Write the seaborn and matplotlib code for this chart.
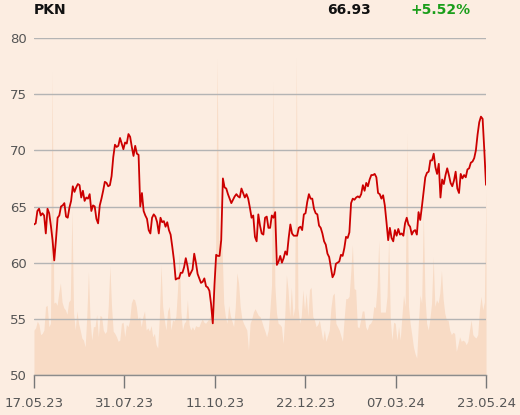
import numpy as np
import matplotlib
matplotlib.use("Agg")
import matplotlib.pyplot as plt
import seaborn as sns

# ---------------- data ----------------
ticker = "PKN"
last_price = "66.93"
change_pct = "+5.52%"
date_labels = ["17.05.23", "31.07.23", "11.10.23", "22.12.23", "07.03.24", "23.05.24"]
y_ticks = [50, 55, 60, 65, 70, 75, 80]

price_a = [63.4, 63.5, 64.6, 64.8, 64.2, 64.4, 64.2, 62.6, 64.8, 64.4, 63.3, 62.0, 60.2, 62.0,
           64.0, 64.2, 65.0, 65.1, 65.3, 64.1, 64.0, 64.9, 65.5, 66.8, 66.3, 66.7, 67.0, 66.9,
           65.8, 66.4, 65.5, 65.8, 65.7, 66.1, 64.6, 65.1, 65.0, 63.9, 63.5, 65.1, 65.7, 66.4,
           67.2, 67.1, 66.8, 66.9, 67.7, 69.4, 70.5, 70.3, 70.4, 71.1, 70.6, 70.1, 70.7, 70.6,
           71.45, 71.2, 70.3, 69.5, 70.4, 69.7, 69.6, 65.0, 66.2, 64.6, 64.2, 63.9]
price_b = [62.9, 62.6, 64.0, 64.3, 64.1, 63.6, 62.6, 64.0, 63.6, 63.7, 63.2, 63.6, 62.9, 62.5,
           61.4, 60.2, 58.5, 58.6, 58.6, 59.1, 59.1, 59.6, 60.4, 59.7, 58.8, 59.1, 59.4, 60.8,
           60.0, 59.0, 58.6, 58.2, 58.3, 58.6, 57.9, 57.8, 57.5, 56.3, 54.6, 58.0, 60.7, 60.6,
           60.6, 62.0, 67.5, 66.7, 66.6, 66.1, 65.7, 65.3, 65.6, 65.9, 66.1, 65.9, 65.8, 66.6,
           66.2, 65.8, 66.1, 65.7, 64.9, 64.0, 64.2, 62.3, 61.9]
price_c = [64.3, 63.3, 62.6, 62.5, 64.0, 64.1, 63.1, 63.1, 64.2, 64.0, 64.5, 59.8, 60.1, 60.6,
           60.0, 60.4, 61.0, 60.7, 62.2, 63.4, 62.6, 62.4, 62.4, 62.4, 63.1, 63.2, 62.9, 64.3,
           64.4, 65.4, 66.1, 65.7, 65.7, 64.8, 64.4, 64.3, 63.3, 63.1, 62.6, 61.9, 61.6, 60.8,
           60.5, 59.6, 58.7, 59.0, 59.9, 60.0, 60.1, 60.7, 60.6, 61.3, 62.3, 62.2, 62.7, 65.3,
           65.7, 65.6, 65.8, 65.9, 65.8, 66.1, 66.9, 66.4, 67.1, 66.8, 67.4]
price_d = [67.8, 67.8, 67.9, 67.6, 66.2, 66.1, 65.7, 66.0, 65.1, 63.6, 62.0, 63.1, 62.2, 61.9,
           62.9, 62.4, 63.0, 62.5, 62.6, 62.4, 63.5, 64.0, 63.4, 63.2, 62.5, 62.8, 62.9, 62.5,
           64.5, 63.8, 65.0, 66.3, 67.6, 68.0, 68.1, 69.1, 69.1, 69.7, 68.5, 67.9, 68.8, 65.8,
           67.4, 67.0, 67.8, 68.4, 67.8, 67.1, 66.8, 67.3, 68.1, 66.6, 66.2, 67.9, 67.5, 67.8,
           67.6, 68.3, 68.4, 68.9, 69.0, 69.3, 70.0, 71.4, 72.5, 73.0, 72.8, 70.0, 66.93]

vol_a = [4.0, 4.2, 4.8, 4.5, 3.6, 3.7, 4.0, 6.1, 6.2, 4.3, 4.6, 27.0, 6.4, 6.5, 6.2, 7.3, 8.2,
         6.5, 6.0, 5.8, 5.4, 6.5, 6.7, 14.7, 5.5, 4.0, 5.7, 4.6, 4.0, 3.3, 3.1, 2.5, 5.2, 9.2,
         4.9, 3.1, 4.3, 4.3, 5.4, 3.4, 5.3, 5.2, 4.0, 3.7, 3.9, 6.1, 9.7, 6.1, 3.9, 3.7, 3.4,
         3.0, 3.1, 4.6, 4.7, 3.4, 4.5, 4.3, 4.9, 6.4, 6.8, 6.7, 6.1, 4.9, 5.2]
vol_b = [4.3, 5.2, 5.7, 4.0, 4.2, 3.9, 4.4, 3.4, 3.7, 2.7, 2.4, 5.2, 9.8, 6.1, 4.9, 4.0, 5.7,
         6.1, 4.0, 4.9, 4.8, 5.2, 7.6, 11.0, 5.7, 4.0, 4.6, 4.8, 6.7, 4.5, 4.0, 4.3, 4.0]
vol_c = [4.4, 4.3, 4.3, 4.7, 5.0, 4.7, 4.6, 4.8, 5.0, 5.3, 5.8, 7.0, 9.0, 28.2, 12.0, 12.0,
         11.4, 6.4, 5.2, 4.6, 6.2, 5.3, 4.8, 4.3, 6.0, 9.1, 8.2, 6.1, 5.0, 4.6, 4.3, 4.0, 2.2,
         4.6, 5.0, 5.6, 5.9, 5.6, 5.3, 5.2, 4.8, 4.3, 3.9, 3.4, 4.0, 5.8, 8.0, 26.1, 8.0, 5.5,
         4.6, 4.5, 4.3, 2.8, 5.2, 8.9, 7.6, 5.2, 7.8, 5.2, 6.0, 28.3, 6.0, 4.6, 5.2, 7.6, 5.8,
         7.3, 5.2, 7.6, 7.8, 5.2, 4.9, 4.3, 4.5, 4.9, 4.0, 3.1, 4.0, 3.0, 3.5, 4.0, 6.0, 7.1,
         7.3, 4.6, 4.3, 4.0, 3.5, 3.0, 5.0, 6.8, 6.8, 7.0]
vol_d = [9.1, 11.6, 7.7, 7.6, 4.3, 4.2, 4.9, 5.7, 5.7, 4.3, 4.0, 4.5]
vol_e = [4.6, 4.9, 6.1, 6.0, 7.9, 12.0, 5.6, 5.6, 5.6, 5.6, 7.0, 12.2, 4.9, 3.1, 4.7, 4.6,
         3.1, 4.3, 3.1, 5.2, 7.1, 6.1, 21.5, 6.1, 4.6, 3.6, 2.5, 1.9, 1.5, 4.6, 7.1, 6.4, 14.4,
         7.0, 4.6, 4.0, 5.0, 6.4, 10.5, 6.1, 6.7, 6.4, 7.3, 9.3, 6.8, 5.5, 4.9, 4.9, 4.0, 3.6,
         3.8, 3.7, 2.1, 2.7, 3.4, 3.0, 3.1, 3.0, 2.7, 3.0, 4.0, 4.9, 3.6, 3.4, 3.3, 3.6, 5.8,
         7.0, 5.8, 6.5, 16.5]

price = price_a + price_b + price_c + price_d
volume = vol_a + vol_b + vol_c + vol_d + vol_e

# ---------------- style ----------------
BG = "#fcede1"
VOLC = "#f8dbc5"
LINEC = "#cc0000"
GRIDC = "#b4b4b4"
TXTC = "#555555"

sns.set_theme(style="white")
plt.rcParams["font.family"] = ["DejaVu Sans"]

W, H = 520, 415
fig = plt.figure(figsize=(W / 100, H / 100), dpi=100, facecolor=BG)
ax = fig.add_axes([34 / W, 1 - 375 / H, 452 / W, 337 / H])
axv = ax.twinx()
ax.set_zorder(2)
axv.set_zorder(1)
ax.patch.set_visible(False)
axv.patch.set_visible(True)
axv.patch.set_facecolor(BG)

n = len(price)
idx = np.arange(n)
xv = np.linspace(0, n - 1, len(volume))

# volume area
axv.fill_between(xv, 0, volume, color=VOLC, linewidth=0)
axv.set_ylim(0, 30)
axv.set_yticks([])
for s in axv.spines.values():
    s.set_visible(False)

# price line
sns.lineplot(x=idx, y=price, ax=ax, color=LINEC, linewidth=1.3)
ax.set_xlim(0, n - 1)
ax.set_ylim(50, 80)
ax.set_yticks(y_ticks)
ax.set_yticklabels([str(v) for v in y_ticks])
ax.set_xticks(np.linspace(0, n - 1, len(date_labels)))
ax.set_xticklabels(date_labels)
ax.grid(axis="y", color=GRIDC, linewidth=1)
ax.grid(axis="x", visible=False)
for side in ["top", "right", "left"]:
    ax.spines[side].set_visible(False)
ax.spines["bottom"].set_color("#8c8c8c")
ax.spines["bottom"].set_linewidth(1)
ax.tick_params(axis="x", direction="out", length=9.5, width=1, color="#777777",
               labelcolor=TXTC, labelsize=9.5, pad=6.5, bottom=True)
ax.tick_params(axis="y", length=0, labelcolor=TXTC, labelsize=9.5, pad=5)
ax.set_xlabel("")
ax.set_ylabel("")

# header
yh = 1 - 10 / H
fig.text(34 / W, yh, ticker, fontsize=10, fontweight="bold", color="#111111", va="center")
fig.text(327 / W, yh, last_price, fontsize=10, fontweight="bold", color="#111111", va="center")
fig.text(411 / W, yh, change_pct, fontsize=10, fontweight="bold", color="#1a9e1a", va="center")

fig.savefig("out.png", dpi=100, facecolor=BG)
